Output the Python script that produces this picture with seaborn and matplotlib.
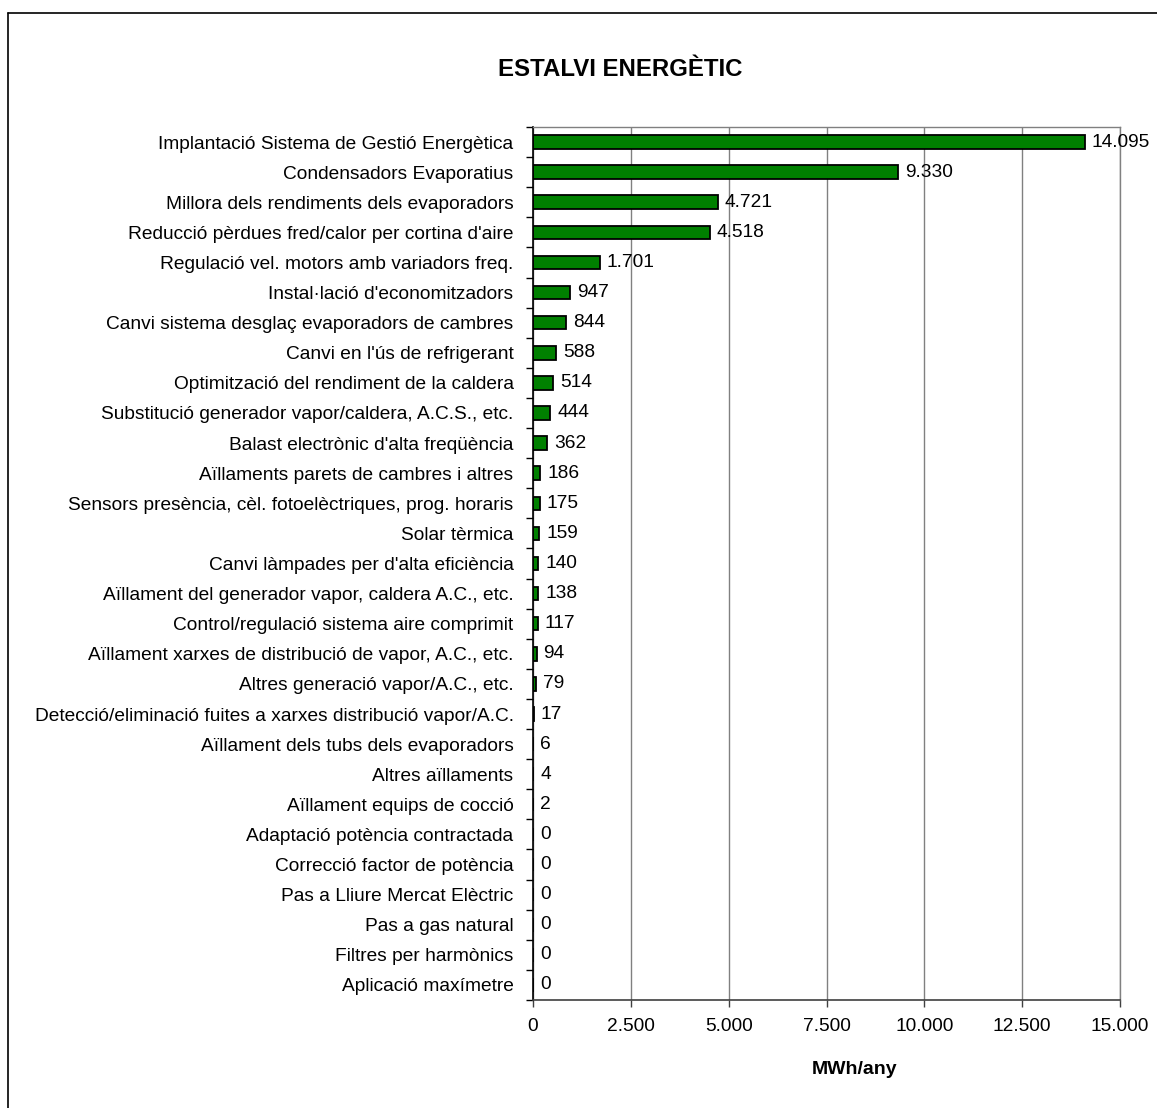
import matplotlib
matplotlib.use("Agg")
import matplotlib.pyplot as plt
from matplotlib.ticker import FixedLocator, FuncFormatter
import seaborn as sns
import pandas as pd

categories = [
    "Implantació Sistema de Gestió Energètica",
    "Condensadors Evaporatius",
    "Millora dels rendiments dels evaporadors",
    "Reducció pèrdues fred/calor per cortina d'aire",
    "Regulació vel. motors amb variadors freq.",
    "Instal·lació d'economitzadors",
    "Canvi sistema desglaç evaporadors de cambres",
    "Canvi en l'ús de refrigerant",
    "Optimització del rendiment de la caldera",
    "Substitució generador vapor/caldera, A.C.S., etc.",
    "Balast electrònic d'alta freqüència",
    "Aïllaments parets de cambres i altres",
    "Sensors presència, cèl. fotoelèctriques, prog. horaris",
    "Solar tèrmica",
    "Canvi làmpades per d'alta eficiència",
    "Aïllament del generador vapor, caldera A.C., etc.",
    "Control/regulació sistema aire comprimit",
    "Aïllament xarxes de distribució de vapor, A.C., etc.",
    "Altres generació vapor/A.C., etc.",
    "Detecció/eliminació fuites a xarxes distribució vapor/A.C.",
    "Aïllament dels tubs dels evaporadors",
    "Altres aïllaments",
    "Aïllament equips de cocció",
    "Adaptació potència contractada",
    "Correcció factor de potència",
    "Pas a Lliure Mercat Elèctric",
    "Pas a gas natural",
    "Filtres per harmònics",
    "Aplicació maxímetre",
]
savings_mwh = [14095, 9330, 4721, 4518, 1701, 947, 844, 588, 514, 444, 362,
               186, 175, 159, 140, 138, 117, 94, 79, 17, 6, 4, 2, 0, 0, 0, 0, 0, 0]
x_ticks = [0, 2500, 5000, 7500, 10000, 12500, 15000]

df = pd.DataFrame({"mesura": categories, "mwh": savings_mwh})


def fmt_thousands(v):
    return f"{int(round(v)):,}".replace(",", ".")


sns.set_theme(style="white")
plt.rcParams["font.family"] = ["Liberation Sans", "DejaVu Sans"]
plt.rcParams["text.color"] = "black"
plt.rcParams["xtick.color"] = "black"
plt.rcParams["ytick.color"] = "black"
plt.rcParams["axes.labelcolor"] = "black"

LABEL_SIZE = 13.8

fig = plt.figure(figsize=(11.57, 11.08), dpi=100)
ax = fig.add_axes([533 / 1157, 1 - 1000 / 1108, (1120 - 533) / 1157, (1000 - 127) / 1108])

sns.barplot(data=df, x="mwh", y="mesura", orient="h", color="#008000",
            saturation=1, width=0.45, edgecolor="black", linewidth=1.3, ax=ax)

ax.set_xlim(0, 15000)
ax.set_ylim(len(categories) - 0.5, -0.5)
ax.xaxis.set_major_locator(FixedLocator(x_ticks))
ax.xaxis.set_major_formatter(FuncFormatter(lambda v, p: fmt_thousands(v)))
ax.grid(axis="x", color="#808080", linewidth=1.0)
ax.grid(axis="y", visible=False)
ax.set_axisbelow(True)

# category ticks sit on the boundaries between bars
ax.yaxis.set_minor_locator(FixedLocator([i + 0.5 for i in range(-1, len(categories))]))
ax.tick_params(axis="y", which="major", length=0, pad=14, labelsize=LABEL_SIZE)
ax.tick_params(axis="y", which="minor", left=True, length=5, width=1, color="black")
ax.tick_params(axis="x", which="major", bottom=True, length=5, width=1, color="#404040",
               labelsize=LABEL_SIZE, pad=8)

for side in ("top", "right"):
    ax.spines[side].set_color("#808080")
    ax.spines[side].set_linewidth(1.0)
ax.spines["left"].set_color("black")
ax.spines["bottom"].set_color("#404040")
for side in ("left", "bottom"):
    ax.spines[side].set_linewidth(1.2)

ax.set_ylabel("")
ax.set_xlabel("")

for i, v in enumerate(savings_mwh):
    ax.annotate(fmt_thousands(v), xy=(v, i), xytext=(5, 0), textcoords="offset points",
                va="center", ha="left", fontsize=LABEL_SIZE)

fig.text(855 / 1157, 1 - 1070 / 1108, "MWh/any", ha="center", va="center",
         fontsize=14, fontweight="bold")
fig.text(620 / 1157, 1 - 69 / 1108, "ESTALVI ENERGÈTIC", ha="center", va="center",
         fontsize=17.3, fontweight="bold")

# outer chart frame
fig.add_artist(plt.Line2D([8 / 1157, 1.01], [1 - 13 / 1108, 1 - 13 / 1108],
                          transform=fig.transFigure, color="black", linewidth=1.2))
fig.add_artist(plt.Line2D([8 / 1157, 8 / 1157], [1 - 13 / 1108, -0.01],
                          transform=fig.transFigure, color="black", linewidth=1.2))

fig.savefig("out.png", dpi=100, facecolor="white")
